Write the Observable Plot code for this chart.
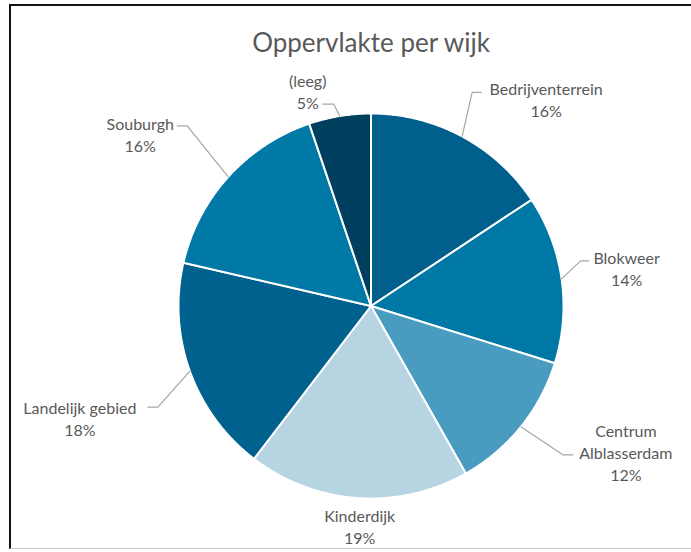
<!DOCTYPE html>
<html>
<head>
<meta charset="utf-8">
<script src="https://cdn.jsdelivr.net/npm/d3@7"></script>
<script src="https://cdn.jsdelivr.net/npm/@observablehq/plot@0.6"></script>
<style>
  html, body { margin: 0; padding: 0; background: #fff; }
  #wrap { position: relative; width: 691px; height: 552px; overflow: hidden; }
  #frame { position: absolute; left: 9px; top: 4px; width: 700px; height: 542px;
           border-left: 2px solid #111; border-top: 2px solid #111; border-bottom: 1px solid #c8c8c8; }
  #chart { position: absolute; left: 0; top: 0; }
</style>
</head>
<body>
<div id="wrap"><div id="frame"></div><div id="chart"></div></div>
<script>
// ---- data ----
const title = "Oppervlakte per wijk";
const categories = ["Bedrijventerrein", "Blokweer", "Centrum Alblasserdam", "Kinderdijk", "Landelijk gebied", "Souburgh", "(leeg)"];
const displayNames = ["Bedrijventerrein", "Blokweer", "Centrum\nAlblasserdam", "Kinderdijk", "Landelijk gebied", "Souburgh", "(leeg)"];
const values = [15.7, 14.1, 12.0, 18.6, 18.2, 16.2, 5.2];
const colors = ["#005f8c", "#0078a6", "#4a9bc0", "#b7d4e2", "#00608e", "#0079a6", "#003f5e"];

// ---- layout (pixels) ----
const CX = 370.5, CY = 305.5, R = 192.5;
const labelOffset = [[84, -37], [65, -11], [105, 25], [2, 28], [-110, 47], [-88, -43], [-32, -25]];
const elbowOffset = [[10, -44], [19, -18], [42, 28], null, [-32, 36], [-41, -51], [-6, -12]];
const tickLen = [9, 8, 10, 0, -10, -10, -11];

const total = d3.sum(values);
let cum = 0;
const slices = categories.map((name, i) => {
  const a0 = cum / total * 2 * Math.PI;
  cum += values[i];
  const a1 = cum / total * 2 * Math.PI;
  return {name, i, a0, a1, mid: (a0 + a1) / 2, pct: Math.round(values[i] / total * 100) + "%"};
});

// polygon points for each slice (center -> arc -> center)
const polyPts = [];
for (const s of slices) {
  polyPts.push({name: s.name, x: 0, y: 0});
  const n = Math.max(2, Math.ceil((s.a1 - s.a0) / (Math.PI / 360)));
  for (let k = 0; k <= n; k++) {
    const t = s.a0 + (s.a1 - s.a0) * k / n;
    polyPts.push({name: s.name, x: Math.sin(t), y: Math.cos(t)});
  }
  polyPts.push({name: s.name, x: 0, y: 0});
}

const labels = slices.map(s => {
  const ax = Math.sin(s.mid), ay = Math.cos(s.mid);
  const [dx, dy] = labelOffset[s.i];
  return {x: ax + dx / R, y: ay - dy / R, text: displayNames[s.i] + "\n" + s.pct};
});

const leaderPts = [];
for (const s of slices) {
  const e = elbowOffset[s.i];
  if (!e) continue;
  const ax = Math.sin(s.mid), ay = Math.cos(s.mid);
  const ex = ax + e[0] / R, ey = ay - e[1] / R;
  leaderPts.push({name: s.name, x: ax, y: ay});
  leaderPts.push({name: s.name, x: ex, y: ey});
  leaderPts.push({name: s.name, x: ex + tickLen[s.i] / R, y: ey});
}

const chart = Plot.plot({
  width: 691,
  height: 552,
  margin: 0,
  x: {domain: [-1, 1], range: [CX - R, CX + R], axis: null},
  y: {domain: [-1, 1], range: [CY + R, CY - R], axis: null},
  color: {domain: categories, range: colors},
  style: {background: "transparent", overflow: "visible"},
  marks: [
    Plot.line(polyPts, {x: "x", y: "y", z: "name", fill: "name", stroke: "white", strokeWidth: 2, strokeLinejoin: "round"}),
    Plot.line(leaderPts, {x: "x", y: "y", z: "name", stroke: "#a6a6a6", strokeWidth: 1.2}),
    Plot.text(labels, {x: "x", y: "y", text: "text", fill: "#595959", fontSize: 16, fontFamily: "Lato", lineHeight: 1.375, textAnchor: "middle", lineAnchor: "middle"}),
    Plot.text([title], {text: d => d, frameAnchor: "top", dx: 25, dy: 43, fill: "#595959", fontSize: 26, fontFamily: "Lato", lineAnchor: "middle"})
  ]
});
document.getElementById("chart").appendChild(chart);
</script>
</body>
</html>
